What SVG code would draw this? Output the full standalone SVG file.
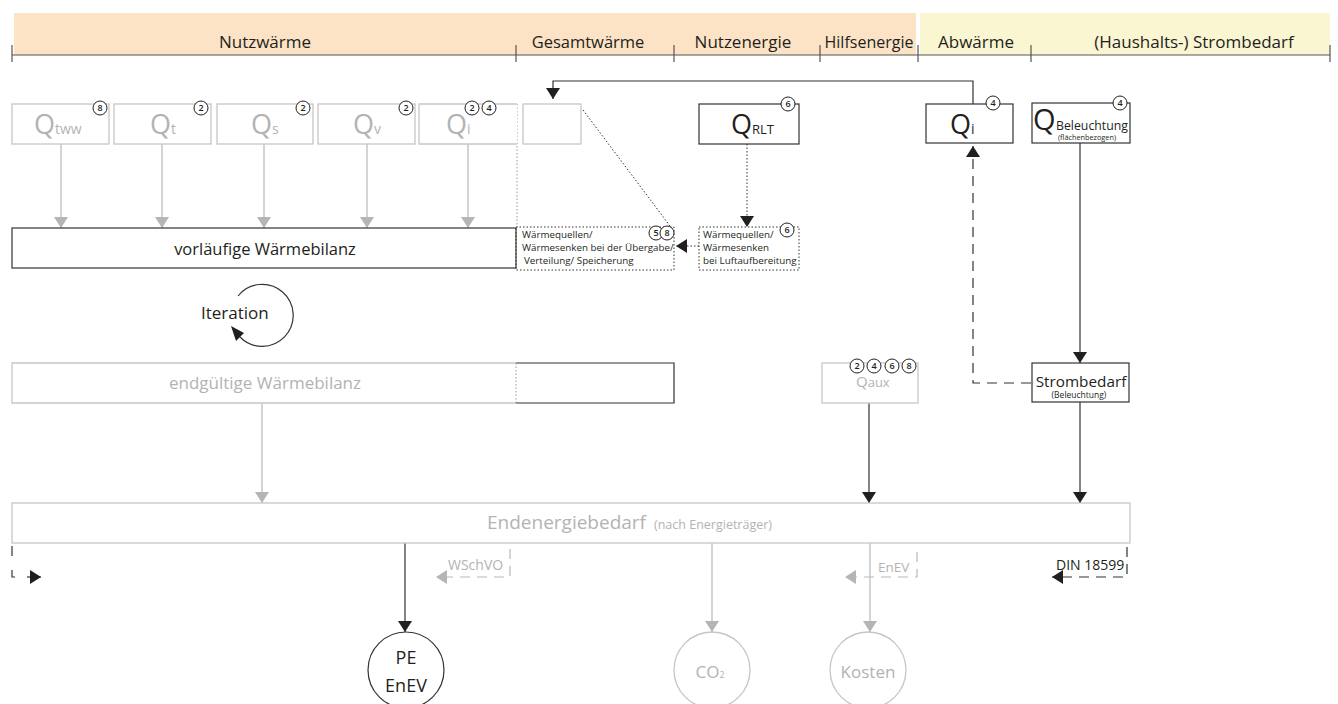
<svg xmlns="http://www.w3.org/2000/svg" width="1338" height="704" viewBox="0 0 1338 704">
<defs>
<style>
text{font-family:"Open Sans","Noto Sans","DejaVu Sans",sans-serif;fill:#231f20}
.hd{font-size:17px;text-anchor:middle}
.g{fill:#b3b3b3}
.q{font-size:27px}
.sub{font-size:14px}
.bxg{fill:#fff;stroke:#c6c6c6;stroke-width:1.3}
.bxk{fill:#fff;stroke:#333;stroke-width:1.2}
.dot{fill:none;stroke:#333;stroke-width:1;stroke-dasharray:1.5 2}
.dotg{fill:none;stroke:#999;stroke-width:1;stroke-dasharray:1.5 2}
.cg{fill:none;stroke:#b8b8b8;stroke-width:1.2}
.ck{fill:none;stroke:#333;stroke-width:1.2}
.dk{fill:none;stroke:#333;stroke-width:1.2;stroke-dasharray:10 7}
.dg{fill:none;stroke:#b8b8b8;stroke-width:1.2;stroke-dasharray:10 7}
.bd circle{fill:#fff;stroke:#231f20;stroke-width:1}
.bd text{font-size:9px;font-weight:600;text-anchor:middle}
.sm{font-size:9.8px}
.tick{stroke:#555;stroke-width:1.2}
</style>
<marker id="ak" markerUnits="userSpaceOnUse" markerWidth="14" markerHeight="14" refX="11" refY="7" orient="auto"><path d="M0,0 L11,7 L0,14 z" fill="#231f20"/></marker>
<marker id="ag" markerUnits="userSpaceOnUse" markerWidth="14" markerHeight="14" refX="11" refY="7" orient="auto"><path d="M0,0 L11,7 L0,14 z" fill="#b5b5b5"/></marker>
</defs>

<g id="header">
<rect x="14" y="13" width="902" height="42" fill="#fde3c5"/>
<rect x="920" y="13" width="410" height="42" fill="#fbf6d2"/>
<line x1="12" y1="55" x2="1330" y2="55" class="tick"/>
<line x1="12" y1="45" x2="12" y2="62" class="tick"/>
<line x1="516" y1="45" x2="516" y2="62" class="tick"/>
<line x1="674" y1="45" x2="674" y2="62" class="tick"/>
<line x1="820" y1="45" x2="820" y2="62" class="tick"/>
<line x1="918" y1="45" x2="918" y2="62" class="tick"/>
<line x1="1031" y1="45" x2="1031" y2="62" class="tick"/>
<line x1="1330" y1="45" x2="1330" y2="62" class="tick"/>
<text class="hd" x="265" y="48">Nutzwärme</text>
<text class="hd" x="588" y="48" style="font-size:16.5px">Gesamtwärme</text>
<text class="hd" x="743" y="48">Nutzenergie</text>
<text class="hd" x="869" y="48" style="font-size:16px">Hilfsenergie</text>
<text class="hd" x="976" y="48">Abwärme</text>
<text class="hd" x="1194" y="48">(Haushalts-) Strombedarf</text>
</g>

<g id="connectors">
<line x1="61" y1="144" x2="61" y2="228" class="cg" marker-end="url(#ag)"/>
<line x1="162" y1="144" x2="162" y2="228" class="cg" marker-end="url(#ag)"/>
<line x1="264" y1="144" x2="264" y2="228" class="cg" marker-end="url(#ag)"/>
<line x1="367" y1="144" x2="367" y2="228" class="cg" marker-end="url(#ag)"/>
<line x1="468" y1="144" x2="468" y2="228" class="cg" marker-end="url(#ag)"/>
<line x1="517" y1="104" x2="517" y2="228" class="dotg"/>
<line x1="583" y1="110" x2="670" y2="226" class="dot"/>
<path d="M973,104 V81 H553 V99" class="ck" marker-end="url(#ak)"/>
<line x1="747" y1="144" x2="747" y2="227" class="dot" marker-end="url(#ak)"/>
<line x1="699" y1="246" x2="676" y2="246" class="dot" marker-end="url(#ak)"/>
<line x1="1080" y1="143" x2="1080" y2="363" class="ck" marker-end="url(#ak)"/>
<path d="M1031,383 H973 V146" class="dk" marker-end="url(#ak)"/>
<line x1="262" y1="403" x2="262" y2="503" class="cg" marker-end="url(#ag)"/>
<line x1="869" y1="403" x2="869" y2="503" class="ck" marker-end="url(#ak)"/>
<line x1="1080" y1="402" x2="1080" y2="503" class="ck" marker-end="url(#ak)"/>
<line x1="405" y1="543" x2="405" y2="632" class="ck" marker-end="url(#ak)"/>
<line x1="712" y1="543" x2="712" y2="632" class="cg" marker-end="url(#ag)"/>
<line x1="870" y1="543" x2="870" y2="632" class="cg" marker-end="url(#ag)"/>
<path d="M12,546 V556" class="ck"/>
<path d="M12,570 V577 H15" class="ck"/>
<line x1="27" y1="577" x2="41" y2="577" class="ck" marker-end="url(#ak)"/>
<path d="M510,549 V577 H436" class="dg" marker-end="url(#ag)"/>
<path d="M917,552 V577 H845" class="dg" marker-end="url(#ag)"/>
<path d="M1127,547 V577 H1052" class="dk" marker-end="url(#ak)"/>
</g>

<g id="Qtww"><rect x="12" y="104" width="97" height="40" class="bxg"/><text x="34" y="134" class="q g">Q<tspan class="sub">tww</tspan></text><g class="bd"><circle cx="100" cy="108" r="7"/><text x="100" y="111">8</text></g></g>
<g id="Qt"><rect x="114" y="104" width="97" height="40" class="bxg"/><text x="150" y="134" class="q g">Q<tspan class="sub">t</tspan></text><g class="bd"><circle cx="201" cy="108" r="7"/><text x="201" y="111">2</text></g></g>
<g id="Qs"><rect x="217" y="104" width="96" height="40" class="bxg"/><text x="251" y="134" class="q g">Q<tspan class="sub">s</tspan></text><g class="bd"><circle cx="303" cy="108" r="7"/><text x="303" y="111">2</text></g></g>
<g id="Qv"><rect x="318" y="104" width="97" height="40" class="bxg"/><text x="353" y="134" class="q g">Q<tspan class="sub">v</tspan></text><g class="bd"><circle cx="406" cy="108" r="7"/><text x="406" y="111">2</text></g></g>
<g id="Qi"><path d="M517,104 H419 V144 H517" class="bxg"/><text x="446" y="134" class="q g">Q<tspan class="sub">i</tspan></text><g class="bd"><circle cx="472" cy="108" r="7"/><text x="472" y="111">2</text><circle cx="489" cy="108" r="7"/><text x="489" y="111">4</text></g></g>
<g id="empty"><rect x="523" y="104" width="58" height="40" class="bxg"/></g>
<g id="QRLT"><rect x="699" y="104" width="100" height="40" class="bxk"/><text x="731" y="134" class="q">Q<tspan style="font-size:13px">RLT</tspan></text><g class="bd"><circle cx="788" cy="104" r="7"/><text x="788" y="107">6</text></g></g>
<g id="QiAbw"><rect x="926" y="104" width="87" height="39" class="bxk"/><text x="950" y="134" class="q">Q<tspan class="sub">i</tspan></text><g class="bd"><circle cx="993" cy="103" r="7"/><text x="993" y="106">4</text></g></g>
<g id="QBel"><rect x="1032" y="103" width="98" height="40" class="bxk"/><text x="1033" y="130" class="q" style="font-size:29px">Q</text><text x="1056" y="130" style="font-size:12.3px">Beleuchtung</text><text x="1087" y="140" style="font-size:7.3px;text-anchor:middle">(flächenbezogen)</text><g class="bd"><circle cx="1120" cy="103" r="7"/><text x="1120" y="106">4</text></g></g>

<g id="vorlaeufig"><rect x="12" y="228" width="504" height="40" class="bxk"/><text x="265" y="255" style="font-size:16.5px;text-anchor:middle">vorläufige Wärmebilanz</text></g>
<g id="wq1"><rect x="516" y="227" width="158" height="43" class="dot" fill="#fff"/><text x="522" y="238" class="sm">Wärmequellen/</text><text x="522" y="251" class="sm">Wärmesenken bei der Übergabe/</text><text x="524" y="264" class="sm">Verteilung/ Speicherung</text><g class="bd"><circle cx="656" cy="233" r="7"/><text x="656" y="236">5</text><circle cx="667" cy="233" r="7"/><text x="667" y="236">8</text></g></g>
<g id="wq2"><rect x="699" y="227" width="100" height="43" class="dot" fill="#fff"/><text x="703" y="238" class="sm">Wärmequellen/</text><text x="703" y="251" class="sm">Wärmesenken</text><text x="703" y="264" class="sm">bei Luftaufbereitung</text><g class="bd"><circle cx="787" cy="230" r="7"/><text x="787" y="233">6</text></g></g>

<g id="iteration"><text x="201" y="319" style="font-size:17px">Iteration</text><path d="M238,296 A31,31 0 1 1 240,337" class="ck"/><polygon points="231,326 244,333 236,341" fill="#231f20"/></g>

<g id="endgueltig"><path d="M516,363 H12 V403 H516" class="bxg"/><path d="M516,363 H674 V403 H516" class="bxk"/><line x1="516" y1="363" x2="516" y2="403" class="dotg"/><text x="265" y="389" class="g" style="font-size:17px;text-anchor:middle">endgültige Wärmebilanz</text></g>

<g id="Qaux"><rect x="822" y="363" width="96" height="40" class="bxg"/><text x="856" y="387" class="g" style="font-size:15px">Q<tspan style="font-size:13px">aux</tspan></text><g class="bd"><circle cx="857" cy="366" r="7"/><text x="857" y="369">2</text><circle cx="874" cy="366" r="7"/><text x="874" y="369">4</text><circle cx="892" cy="366" r="7"/><text x="892" y="369">6</text><circle cx="909" cy="366" r="7"/><text x="909" y="369">8</text></g></g>
<g id="Strombedarf"><rect x="1032" y="363" width="97" height="39" class="bxk"/><text x="1081" y="387" style="font-size:15.3px;text-anchor:middle">Strombedarf</text><text x="1079" y="398" style="font-size:8.5px;text-anchor:middle">(Beleuchtung)</text></g>

<g id="endenergie"><rect x="12" y="503" width="1118" height="40" class="bxg"/><text x="487" y="529" class="g" style="font-size:19px">Endenergiebedarf<tspan style="font-size:12.5px" dx="8">(nach Energieträger)</tspan></text></g>
<g id="labels"><text x="448" y="570" class="g" style="font-size:14px">WSchVO</text><text x="878" y="572" class="g" style="font-size:13.5px">EnEV</text><text x="1056" y="570" style="font-size:14px">DIN 18599</text></g>

<g id="PE"><circle cx="406" cy="670" r="38" class="bxk"/><text x="406" y="664" style="font-size:18px;text-anchor:middle">PE</text><text x="406" y="692" style="font-size:18px;text-anchor:middle">EnEV</text></g>
<g id="CO2"><circle cx="712" cy="670" r="38" class="bxg"/><text x="710" y="678" class="g" style="font-size:17px;text-anchor:middle">CO<tspan style="font-size:9px">2</tspan></text></g>
<g id="Kosten"><circle cx="868" cy="670" r="38" class="bxg"/><text x="868" y="678" class="g" style="font-size:17px;text-anchor:middle">Kosten</text></g>
</svg>
